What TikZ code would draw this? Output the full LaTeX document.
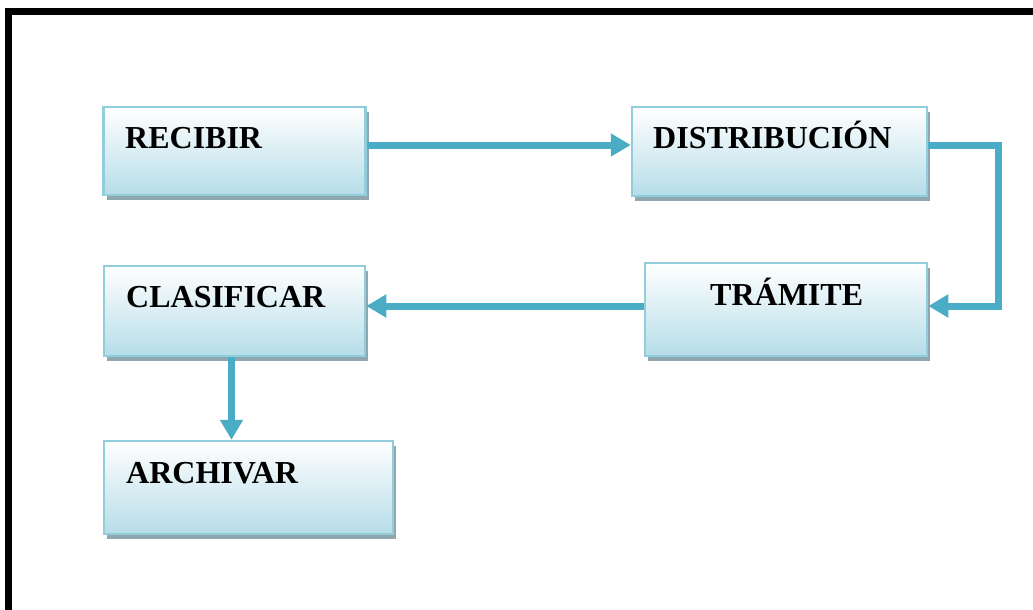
\documentclass[tikz,border=0pt]{standalone}
\usepackage{fontspec}
\setmainfont{Liberation Serif}
\usetikzlibrary{arrows.meta,shadows}

\definecolor{flowblue}{RGB}{75,172,198}
\definecolor{boxedge}{RGB}{146,205,220}
\definecolor{boxfill}{RGB}{182,221,232}
\definecolor{shadowgray}{RGB}{143,168,176}

\tikzset{
  stepbox/.style={
    rectangle, draw=boxedge, line width=2.5pt,
    top color=white, bottom color=boxfill,
    drop shadow={shadow xshift=3pt, shadow yshift=-5pt, fill=shadowgray, opacity=1},
    inner sep=0pt
  },
  steplabel/.style={anchor=base west, inner sep=0pt,
    font=\fontsize{32}{38}\selectfont\bfseries},
  flow/.style={draw=flowblue, line width=7pt,
    -{Triangle[length=20pt,width=22pt]}, color=flowblue}
}

\begin{document}
\begin{tikzpicture}[x=1pt,y=-1pt]
  \useasboundingbox (0,0) rectangle (1033,610);

  % outer frame
  \draw[line width=7pt] (8.5,11.5) rectangle (1050,630);

  % process boxes
  \node[stepbox, minimum width=262pt, minimum height=88pt] (recibir)    at (234.5,151)   {};
  \node[stepbox, minimum width=295pt, minimum height=89pt] (distrib)    at (779.5,151.5) {};
  \node[stepbox, minimum width=282pt, minimum height=93pt] (tramite)    at (786,309.5)   {};
  \node[stepbox, minimum width=261pt, minimum height=90pt] (clasificar) at (234.5,311)   {};
  \node[stepbox, minimum width=289pt, minimum height=93pt] (archivar)   at (248.5,487.5) {};

  % box titles
  \node[steplabel] (trecibir)    at (125,148) {RECIBIR};
  \node[steplabel] (tdistrib)    at (653,148) {DISTRIBUCIÓN};
  \node[steplabel] (ttramite)    at (710,305) {TRÁMITE};
  \node[steplabel] (tclasificar) at (126,307) {CLASIFICAR};
  \node[steplabel] (tarchivar)   at (126,483) {ARCHIVAR};

  % connectors
  \coordinate (turn1) at (998,145.5);
  \coordinate (turn2) at (998,306);
  \draw[flow] ([yshift=6pt]recibir.east) -- ([yshift=6pt]recibir.east -| distrib.west);
  \draw[flow] (turn1 -| distrib.east) -- (turn1) -- (turn2) -- (turn2 -| tramite.east);
  \draw[flow] (turn2 -| tramite.west) -- (turn2 -| clasificar.east);
  \draw[flow] ([xshift=-3pt]clasificar.south) -- ([xshift=-3pt]clasificar.south |- archivar.north);
\end{tikzpicture}
\end{document}
